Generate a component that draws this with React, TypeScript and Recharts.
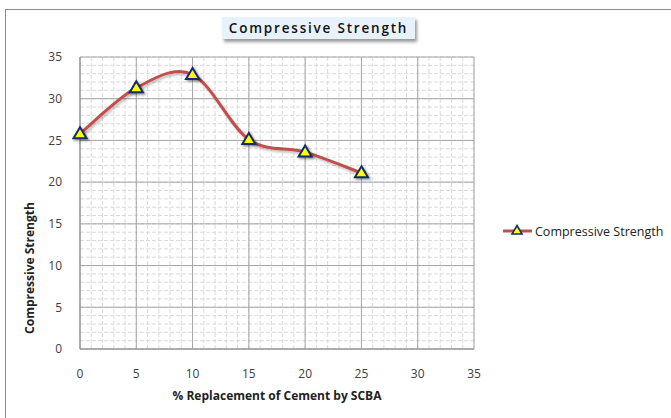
import React from 'react';
import { LineChart, Line, XAxis, YAxis, CartesianGrid } from 'recharts';

const replacement = [0, 5, 10, 15, 20, 25];
const strength = [25.8, 31.3, 32.9, 25.1, 23.6, 21.1];
const majorTicks = [0, 5, 10, 15, 20, 25, 30, 35];
const minorTicks = Array.from({ length: 36 }, (_, i) => i);
const AXIS_MAX = 35;

const data = replacement.map((x, i) => ({ x, y: strength[i] }));

const LINE = '#c0504d';
const MARKER_FILL = '#ffff00';
const MARKER_STROKE = '#142c6a';
const FONT = '"Open Sans", "Liberation Sans", sans-serif';

// Excel style smoothing (Catmull-Rom, tension 1/6)
function excelSmooth(context: any) {
  let pts: number[][] = [];
  return {
    areaStart() {},
    areaEnd() {},
    lineStart() {
      pts = [];
    },
    point(x: number, y: number) {
      pts.push([+x, +y]);
    },
    lineEnd() {
      if (!pts.length) return;
      context.moveTo(pts[0][0], pts[0][1]);
      for (let i = 0; i < pts.length - 1; i++) {
        const p0 = pts[i - 1] || pts[i];
        const p1 = pts[i];
        const p2 = pts[i + 1];
        const p3 = pts[i + 2] || p2;
        context.bezierCurveTo(
          p1[0] + (p2[0] - p0[0]) / 6,
          p1[1] + (p2[1] - p0[1]) / 6,
          p2[0] - (p3[0] - p1[0]) / 6,
          p2[1] - (p3[1] - p1[1]) / 6,
          p2[0],
          p2[1]
        );
      }
    },
  };
}

const Triangle = (props: any) => {
  const { cx, cy } = props;
  if (cx == null || cy == null) return null;
  const h = 11;
  const w = 13;
  return (
    <path
      d={`M${cx},${cy - h * 0.6} L${cx + w / 2},${cy + h * 0.4} L${cx - w / 2},${cy + h * 0.4} Z`}
      fill={MARKER_FILL}
      stroke={MARKER_STROKE}
      strokeWidth={2}
      strokeLinejoin="miter"
      filter="url(#markShadow)"
    />
  );
};

const YLabel = (props: any) => {
  const { viewBox } = props;
  const x = viewBox.x + 31;
  const y = viewBox.y + 211;
  return (
    <text x={x} y={y} transform={`rotate(-90, ${x}, ${y})`} textAnchor="middle" dominantBaseline="middle"
      fontFamily={FONT} fontSize={12} fontWeight={700} fill="#222">
      Compressive Strength
    </text>
  );
};

const XLabel = (props: any) => {
  const { viewBox } = props;
  return (
    <text x={viewBox.x + viewBox.width / 2} y={viewBox.y + 48} textAnchor="middle" dominantBaseline="middle"
      fontFamily={FONT} fontSize={12} fontWeight={700} fill="#222">
      % Replacement of Cement by SCBA
    </text>
  );
};

// minor grid every 1 unit, placed along the plot area
const minorH = ({ offset }: any) => minorTicks.map((t) => offset.top + offset.height * (1 - t / AXIS_MAX));
const minorV = ({ offset }: any) => minorTicks.map((t) => offset.left + offset.width * (t / AXIS_MAX));

export default function App() {
  const tick = { fontSize: 12, fill: '#404040', fontFamily: FONT };
  return (
    <div style={{ position: 'absolute', left: 0, top: 0, width: 671, height: 418, overflow: 'hidden', background: '#fff' }}>
      <div style={{ position: 'absolute', left: 5, top: 9, width: 720, height: 460, border: '1px solid #8c8c8c' }} />
      <div style={{ position: 'absolute', left: 0, top: 0 }}>
        <LineChart width={671} height={418} data={data} margin={{ top: 57, right: 197, bottom: 9, left: 0 }}>
          <defs>
            <filter id="markShadow" x="-50%" y="-50%" width="200%" height="200%">
              <feDropShadow dx="1.5" dy="1.5" stdDeviation="1" floodColor="#000" floodOpacity="0.45" />
            </filter>
            <filter id="lineShadow" x="-10%" y="-10%" width="120%" height="120%">
              <feDropShadow dx="1.5" dy="2" stdDeviation="1.2" floodColor="#000" floodOpacity="0.25" />
            </filter>
          </defs>
          <CartesianGrid
            stroke="#dadada"
            strokeDasharray="4 2"
            strokeWidth={1}
            horizontalCoordinatesGenerator={minorH}
            verticalCoordinatesGenerator={minorV}
          />
          <CartesianGrid stroke="#a6a6a6" strokeWidth={1} />
          <XAxis
            dataKey="x"
            type="number"
            domain={[0, AXIS_MAX]}
            ticks={majorTicks}
            height={60}
            tickLine={false}
            axisLine={{ stroke: '#8c8c8c' }}
            tick={tick}
            tickMargin={14}
            label={<XLabel />}
          />
          <YAxis
            type="number"
            domain={[0, AXIS_MAX]}
            ticks={majorTicks}
            width={80}
            tickLine={false}
            axisLine={{ stroke: '#8c8c8c' }}
            tick={tick}
            tickMargin={12}
            label={<YLabel />}
          />
          <Line
            dataKey="y"
            type={excelSmooth as any}
            stroke={LINE}
            strokeWidth={3}
            filter="url(#lineShadow)"
            dot={<Triangle />}
            activeDot={false}
            isAnimationActive={false}
          />
        </LineChart>
      </div>
      <div
        style={{
          position: 'absolute', left: 222, top: 17, width: 193, height: 22,
          background: '#e8f2fc', boxShadow: '2px 3px 3px rgba(0,0,0,0.4)',
          fontFamily: FONT, fontSize: 13.5, fontWeight: 600, letterSpacing: 1.8,
          color: '#111', textAlign: 'center', lineHeight: '22px', whiteSpace: 'nowrap',
        }}
      >
        Compressive Strength
      </div>
      <div style={{ position: 'absolute', left: 502, top: 222, display: 'flex', alignItems: 'center', whiteSpace: 'nowrap' }}>
        <svg width={32} height={18}>
          <line x1={1} y1={9} x2={30} y2={9} stroke={LINE} strokeWidth={3} />
          <path d="M15,3.5 L20,12 L10,12 Z" fill={MARKER_FILL} stroke={MARKER_STROKE} strokeWidth={1.6} />
        </svg>
        <span style={{ fontFamily: FONT, fontSize: 12.5, color: '#222', marginLeft: 1 }}>Compressive Strength</span>
      </div>
    </div>
  );
}
